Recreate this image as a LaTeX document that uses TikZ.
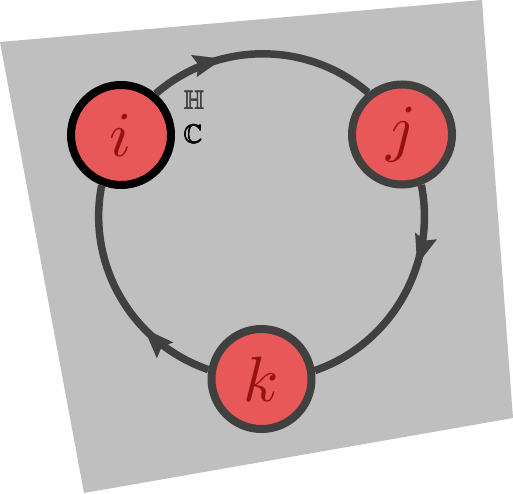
\documentclass[tikz,border=0pt]{standalone}
\usepackage{amssymb}
\usetikzlibrary{arrows.meta,decorations.markings}
\definecolor{bggray}{RGB}{191,191,191}
\definecolor{edgegray}{RGB}{64,64,64}
\definecolor{nodered}{RGB}{232,88,88}
\definecolor{textred}{RGB}{150,18,18}
\newcommand{\bigmath}[1]{\scalebox{6.4}{$#1$}}
\newcommand{\lblmath}[1]{\scalebox{2.6}{$#1$}}
\newcommand{\heavy}[1]{\makebox[0pt]{\raisebox{0.3pt}{#1}}\makebox[0pt]{\hspace{0.7pt}#1}\makebox[0pt]{\hspace{-0.7pt}#1}\makebox[0pt]{#1}}
\tikzset{
  vertex/.style={circle, minimum size=100pt, inner sep=0pt, fill=nodered, draw=edgegray, line width=8pt, text=textred},
  arcedge/.style={draw=edgegray, line width=7.5pt,
    postaction={decorate, decoration={markings, mark=at position #1 with {\fill[edgegray] (0pt,0) -- (-30pt,11.5pt) -- (-25pt,0) -- (-30pt,-11.5pt) -- cycle;}}}},
  setlabel/.style={inner sep=0pt}
}
\begin{document}
\begin{tikzpicture}[x=1pt,y=1pt]
\useasboundingbox (0,0) rectangle (513,493);
\fill[bggray] (0,451) -- (482,493) -- (513,75) -- (84,0) -- cycle;
\node[vertex, draw=black] (i) at (121,358) {\bigmath{i}};
\node[vertex] (j) at (402,358.5) {\bigmath{j}};
\node[vertex] (k) at (261.5,114) {\bigmath{k}};
\draw[arcedge=0.33] (i.50.35) to[out=40.8, in=139.4, out distance=80.3pt, in distance=80.3pt] (j.129.85);
\draw[arcedge=0.345] (j.-69.25) to[out=-78.8, in=19.1, out distance=81.1pt, in distance=81.1pt] (k.9.55);
\draw[arcedge=0.33] (k.170.45) to[out=160.9, in=259, out distance=80.9pt, in distance=80.9pt] (i.249.45);
\node[setlabel, text=edgegray] (H) at (194,393) {\heavy{\lblmath{\mathbb{H}}}};
\node[setlabel, text=black] (C) at (193,359) {\heavy{\lblmath{\mathbb{C}}}};
\end{tikzpicture}
\end{document}
